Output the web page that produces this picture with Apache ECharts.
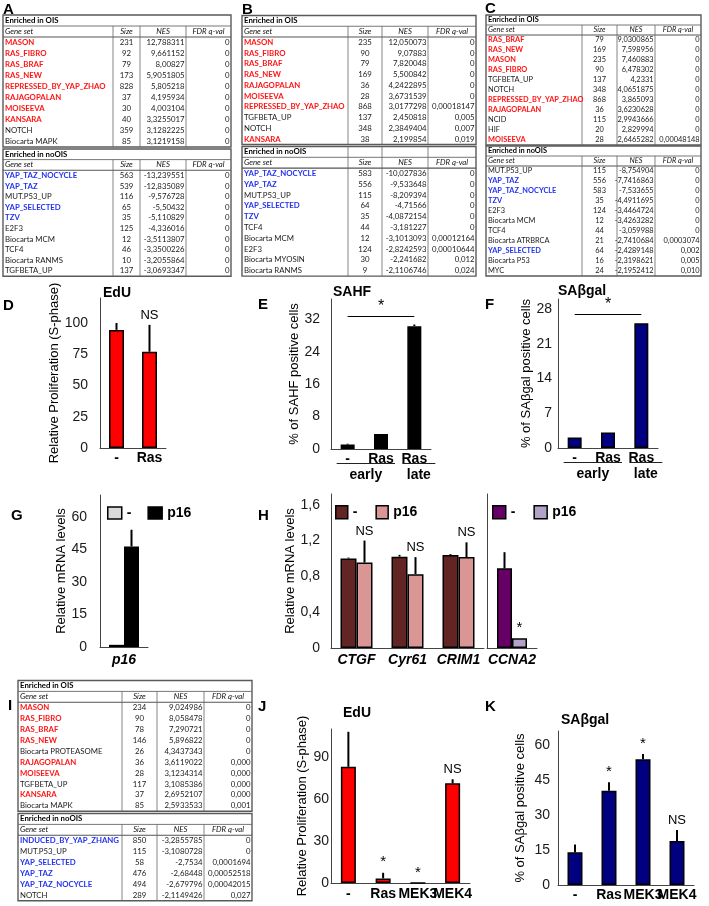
<!DOCTYPE html>
<html><head><meta charset="utf-8">
<script src="https://cdn.jsdelivr.net/npm/echarts@6/dist/echarts.min.js"></script>
<style>html,body{margin:0;padding:0;background:#fff}#c{width:709px;height:906px}</style>
</head><body><div id="c"></div>
<script>
// ================= DATA =================
const redSets = ['MASON','RAS_FIBRO','RAS_BRAF','RAS_NEW','REPRESSED_BY_YAP_ZHAO','RAJAGOPALAN','MOISEEVA','KANSARA'];
const blueSets = ['YAP_TAZ_NOCYCLE','YAP_TAZ','YAP_SELECTED','TZV','INDUCED_BY_YAP_ZHANG'];
const tableHeaders = ['Gene set','Size','NES','FDR q-val'];
const titleOIS = 'Enriched in OIS';
const titleNoOIS = 'Enriched in noOIS';

const tableA_OIS = [
  ['MASON',231,'12,788311','0'],['RAS_FIBRO',92,'9,661152','0'],['RAS_BRAF',79,'8,00827','0'],
  ['RAS_NEW',173,'5,9051805','0'],['REPRESSED_BY_YAP_ZHAO',828,'5,805218','0'],['RAJAGOPALAN',37,'4,195934','0'],
  ['MOISEEVA',30,'4,003104','0'],['KANSARA',40,'3,3255017','0'],['NOTCH',359,'3,1282225','0'],
  ['Biocarta MAPK',85,'3,1219158','0']];
const tableA_noOIS = [
  ['YAP_TAZ_NOCYCLE',563,'-13,239551','0'],['YAP_TAZ',539,'-12,835089','0'],['MUT.P53_UP',116,'-9,576728','0'],
  ['YAP_SELECTED',65,'-5,50432','0'],['TZV',35,'-5,110829','0'],['E2F3',125,'-4,336016','0'],
  ['Biocarta MCM',12,'-3,5113807','0'],['TCF4',46,'-3,3500226','0'],['Biocarta RANMS',10,'-3,2055864','0'],
  ['TGFBETA_UP',137,'-3,0693347','0']];
const tableB_OIS = [
  ['MASON',235,'12,050073','0'],['RAS_FIBRO',90,'9,07883','0'],['RAS_BRAF',79,'7,820048','0'],
  ['RAS_NEW',169,'5,500842','0'],['RAJAGOPALAN',36,'4,2422895','0'],['MOISEEVA',28,'3,6731539','0'],
  ['REPRESSED_BY_YAP_ZHAO',868,'3,0177298','0,00018147'],['TGFBETA_UP',137,'2,450818','0,005'],
  ['NOTCH',348,'2,3849404','0,007'],['KANSARA',38,'2,199854','0,019']];
const tableB_noOIS = [
  ['YAP_TAZ_NOCYCLE',583,'-10,027836','0'],['YAP_TAZ',556,'-9,533648','0'],['MUT.P53_UP',115,'-8,209394','0'],
  ['YAP_SELECTED',64,'-4,71566','0'],['TZV',35,'-4,0872154','0'],['TCF4',44,'-3,181227','0'],
  ['Biocarta MCM',12,'-3,1013093','0,00012164'],['E2F3',124,'-2,8242593','0,00010644'],
  ['Biocarta MYOSIN',30,'-2,241682','0,012'],['Biocarta RANMS',9,'-2,1106746','0,024']];
const tableC_OIS = [
  ['RAS_BRAF',79,'9,0300865','0'],['RAS_NEW',169,'7,598956','0'],['MASON',235,'7,460883','0'],
  ['RAS_FIBRO',90,'6,478302','0'],['TGFBETA_UP',137,'4,2331','0'],['NOTCH',348,'4,0651875','0'],
  ['REPRESSED_BY_YAP_ZHAO',868,'3,865093','0'],['RAJAGOPALAN',36,'3,6230628','0'],['NCID',115,'2,9943666','0'],
  ['HIF',20,'2,829994','0'],['MOISEEVA',28,'2,6465282','0,00048148']];
const tableC_noOIS = [
  ['MUT.P53_UP',115,'-8,754904','0'],['YAP_TAZ',556,'-7,7416863','0'],['YAP_TAZ_NOCYCLE',583,'-7,533655','0'],
  ['TZV',35,'-4,4911695','0'],['E2F3',124,'-3,4464724','0'],['Biocarta MCM',12,'-3,4263282','0'],
  ['TCF4',44,'-3,059988','0'],['Biocarta ATRBRCA',21,'-2,7410684','0,0003074'],['YAP_SELECTED',64,'-2,4289148','0,002'],
  ['Biocarta P53',16,'-2,3198621','0,005'],['MYC',24,'-2,1952412','0,010']];
const tableI_OIS = [
  ['MASON',234,'9,024986','0'],['RAS_FIBRO',90,'8,058478','0'],['RAS_BRAF',78,'7,290721','0'],
  ['RAS_NEW',146,'5,896822','0'],['Biocarta PROTEASOME',26,'4,3437343','0'],['RAJAGOPALAN',36,'3,6119022','0,000'],
  ['MOISEEVA',28,'3,1234314','0,000'],['TGFBETA_UP',117,'3,1085386','0,000'],['KANSARA',37,'2,6952107','0,000'],
  ['Biocarta MAPK',85,'2,5933533','0,001']];
const tableI_noOIS = [
  ['INDUCED_BY_YAP_ZHANG',850,'-3,2855785','0'],['MUT.P53_UP',115,'-3,1080728','0'],
  ['YAP_SELECTED',58,'-2,7534','0,0001694'],['YAP_TAZ',476,'-2,68448','0,00052518'],
  ['YAP_TAZ_NOCYCLE',494,'-2,679796','0,00042015'],['NOTCH',289,'-2,1149426','0,027']];

// Panel D  EdU
const dCategories = ['-','Ras'];
const dValues = [94.5, 77];
const dErrors = [5.5, 21.5];
const dSignif = ['', 'NS'];
const dTicks = [0, 25, 50, 75, 100];
// Panel E  SAHF
const eCategories = ['-','Ras','Ras'];
const eValues = [1.1, 3.7, 30.3];
const eErrors = [0.2, 0, 0.4];
const eTicks = [0, 8, 16, 24, 32];
const eBracket = 32.8;
// Panel F  SAbgal
const fCategories = ['-','Ras','Ras'];
const fValues = [2.1, 3.1, 25.1];
const fErrors = [0, 0, 0];
const fTicks = [0, 7, 14, 21, 28];
const fBracket = 27;
const timeGroups = [['early', 0, 1], ['late', 2, 2]];
// Panel G
const gCategories = ['p16'];
const gCtrl = [1.0];  const gCtrlErr = [0];
const gP16 = [46.3];  const gP16Err = [7.7];
const gTicks = [0, 15, 30, 45, 60];
// Panel H
const hCategories = ['CTGF','Cyr61','CRIM1'];
const hCtrl = [1.0, 1.02, 1.04];   const hCtrlErr = [0.01, 0.02, 0.01];
const hP16 = [0.955, 0.825, 1.015]; const hP16Err = [0.245, 0.19, 0.165];
const hSignif = ['NS','NS','NS'];
const h2Categories = ['CCNA2'];
const h2Ctrl = [0.89]; const h2CtrlErr = [0.18];
const h2P16 = [0.108]; const h2P16Err = [0];
const h2Signif = ['*'];
const hTicks = [0, 0.4, 0.8, 1.2, 1.6];
const hTickLabels = ['0','0,4','0,8','1,2','1,6'];
// Panel J  EdU
const jCategories = ['-','Ras','MEK3','MEK4'];
const jValues = [83, 3.3, 0, 71.2];
const jErrors = [25, 4, 0, 2.9];
const jSignif = ['', '*', '*', 'NS'];
const jTicks = [0, 30, 60, 90];
// Panel K  SAbgal
const kCategories = ['-','Ras','MEK3','MEK4'];
const kValues = [14, 40.4, 53.9, 18.9];
const kErrors = [3.4, 3.6, 2.2, 4.7];
const kSignif = ['', '*', '*', 'NS'];
const kTicks = [0, 15, 30, 45, 60];
const panelLetters = ['A','B','C','D','E','F','G','H','I','J','K'];

// ================= STYLE / LAYOUT =================
const FONT = "'Liberation Sans', Arial, sans-serif";
const TFONT = "Lato, 'Open Sans', sans-serif";
const AXC = '#444';
const grids = [
  {left:100, top:298, width:66,  height:150}, // 0 D
  {left:331, top:299, width:100, height:150}, // 1 E
  {left:558, top:299, width:100, height:149}, // 2 F
  {left:100, top:495, width:48,  height:152}, // 3 G
  {left:331, top:494, width:153, height:154}, // 4 H
  {left:487, top:494, width:50,  height:154}, // 5 H2
  {left:331, top:729, width:139, height:154}, // 6 J
  {left:558, top:731, width:136, height:154}  // 7 K
].map(g => Object.assign({outerBoundsMode:'none', containLabel:false}, g));

function tickFmt(vals, labels) {
  return v => { const k = vals.findIndex(t => Math.abs(t - v) < 1e-9); return k >= 0 ? (labels ? labels[k] : String(vals[k])) : ''; };
}
function xAx(gi, data, italic, labelMargin) {
  return {type:'category', gridIndex:gi, data, axisTick:{show:false}, splitLine:{show:false},
    axisLine:{show:true, lineStyle:{color:AXC, width:1}},
    axisLabel:{interval:0, fontSize:14, fontWeight:'bold', fontStyle: italic ? 'italic' : 'normal', color:'#000', margin:labelMargin, fontFamily:FONT}};
}
function yAx(gi, max, ticks, labels, name, gap, margin, showLabel) {
  return {type:'value', gridIndex:gi, min:0, max, interval: ticks[1]-ticks[0],
    name, nameLocation:'middle', nameGap:gap, nameRotate:90,
    nameTextStyle:{fontSize:13, color:'#000', fontFamily:FONT},
    axisLine:{show:true, lineStyle:{color:AXC, width:1}}, axisTick:{show:false}, splitLine:{show:false},
    axisLabel:{show: showLabel !== false, fontSize:14, color:'#1a1a1a', margin, fontFamily:FONT, formatter: tickFmt(ticks, labels)}};
}
function bar(name, gi, data, color, bw, extra) {
  return Object.assign({type:'bar', name, xAxisIndex:gi, yAxisIndex:gi, data, barWidth:bw, barGap:'0%',
    silent:true, animation:false,
    itemStyle:{color, borderColor:'#000', borderWidth:1.5}}, extra || {});
}
function errBars(gi, vals, errs, labels, offset) {
  return {type:'custom', xAxisIndex:gi, yAxisIndex:gi, silent:true, clip:false, z:5, animation:false,
    data: vals.map((v, i) => [i, v + errs[i]]),
    renderItem: (params, api) => {
      const i = params.dataIndex;
      const base = api.coord([i, vals[i]]);
      const top = api.coord([i, vals[i] + errs[i]]);
      const x = base[0] + offset;
      const ch = [];
      if (errs[i] > 0) ch.push({type:'line', shape:{x1:x, y1:base[1], x2:x, y2:top[1]}, style:{stroke:'#000', lineWidth:2}});
      const lab = labels && labels[i];
      if (lab) {
        const fs = lab === '*' ? 15 : 13;
        ch.push({type:'text', x, y: top[1] - 3, style:{text:lab, fill:'#000', font: fs + 'px ' + FONT,
          align:'center', verticalAlign:'bottom', textAlign:'center', textVerticalAlign:'bottom'}});
      }
      return {type:'group', children: ch};
    }};
}
function bracket(level) {
  return {silent:true, symbol:'none', animation:false,
    lineStyle:{color:'#000', width:1, type:'solid'},
    label:{show:true, position:'insideMiddleTop', formatter:'*', fontSize:16, color:'#000', distance:1, fontFamily:FONT},
    emphasis:{disabled:true},
    data:[[{coord:[0, level]}, {coord:[2, level]}]]};
}
const legendBase = {icon:'rect', selectedMode:false, padding:0, orient:'horizontal',
  formatter: n => n.split(': ')[1],
  textStyle:{fontSize:14, fontWeight:'bold', color:'#000', fontFamily:FONT},
  itemStyle:{borderColor:'#000', borderWidth:1.5}};
const titleBase = {padding:0, textStyle:{fontSize:14, fontWeight:'bold', color:'#000', fontFamily:FONT, lineHeight:14}};

const option = {
  animation:false,
  backgroundColor:'#fff',
  textStyle:{fontFamily:FONT},
  grid: grids,
  title: [
    Object.assign({text:'EdU', left:103, top:286}, titleBase),
    Object.assign({text:'SAHF', left:333, top:285}, titleBase),
    Object.assign({text:'SAβgal', left:558, top:284}, titleBase),
    Object.assign({text:'EdU', left:343, top:706}, titleBase),
    Object.assign({text:'SAβgal', left:561, top:713}, titleBase)
  ],
  legend: [
    Object.assign({left:107, top:506, itemWidth:14, itemHeight:12, itemGap:16, data:['G: -','G: p16']}, legendBase),
    Object.assign({left:335, top:505, itemWidth:12, itemHeight:13, itemGap:18, data:['H: -','H: p16']}, legendBase),
    Object.assign({left:492, top:505, itemWidth:13, itemHeight:13, itemGap:18, data:['H2: -','H2: p16']}, legendBase)
  ],
  xAxis: [
    xAx(0, dCategories, false, 3), xAx(1, eCategories, false, 3), xAx(2, fCategories, false, 3),
    xAx(3, gCategories, true, 6), xAx(4, hCategories, true, 5), xAx(5, h2Categories, true, 5),
    xAx(6, jCategories, false, 4), xAx(7, kCategories, false, 3)
  ],
  yAxis: [
    yAx(0, 120, dTicks, null, 'Relative Proliferation (S-phase)', 33.5, 12),
    yAx(1, 37, eTicks, null, '% of SAHF positive cells', 26.5, 11),
    yAx(2, 30, fTicks, null, '% of SAβgal positive cells', 23.5, 6),
    yAx(3, 70, gTicks, null, 'Relative mRNA levels', 27.5, 13),
    yAx(4, 1.72, hTicks, hTickLabels, 'Relative mRNA levels', 30.5, 11),
    yAx(5, 1.72, hTicks, hTickLabels, '', 10, 8, false),
    yAx(6, 110, jTicks, null, 'Relative Proliferation (S-phase)', 22, 2),
    yAx(7, 66, kTicks, null, '% of SAβgal positive cells', 31.5, 8)
  ],
  series: [
    bar('D', 0, dValues, '#ff0000', 15), errBars(0, dValues, dErrors, dSignif, 0),
    bar('E', 1, eValues, '#000000', 14, {markLine: bracket(eBracket)}), errBars(1, eValues, eErrors, null, 0),
    bar('F', 2, fValues, '#000080', 14, {markLine: bracket(fBracket)}), errBars(2, fValues, fErrors, null, 0),
    bar('G: -', 3, gCtrl, '#d9d9d9', 15), bar('G: p16', 3, gP16, '#000000', 15),
    errBars(3, gCtrl, gCtrlErr, null, -7.5), errBars(3, gP16, gP16Err, null, 7.5),
    bar('H: -', 4, hCtrl, '#632523', 16), bar('H: p16', 4, hP16, '#d99694', 16),
    errBars(4, hCtrl, hCtrlErr, null, -8), errBars(4, hP16, hP16Err, hSignif, 8),
    bar('H2: -', 5, h2Ctrl, '#660066', 15), bar('H2: p16', 5, h2P16, '#b3a2c7', 15),
    errBars(5, h2Ctrl, h2CtrlErr, null, -7.5), errBars(5, h2P16, h2P16Err, h2Signif, 7.5),
    bar('J', 6, jValues, '#ff0000', 15), errBars(6, jValues, jErrors, jSignif, 0),
    bar('K', 7, kValues, '#000080', 15), errBars(7, kValues, kErrors, kSignif, 0)
  ]
};

const chart = echarts.init(document.getElementById('c'), null, {renderer:'canvas', width:709, height:906});
chart.setOption(option);

// ================= TABLES & ANNOTATIONS (graphic) =================
function txt(s, x, y, align, font, fill, vAlign) {
  const va = vAlign || 'middle';
  return {type:'text', x, y, silent:true,
    style:{text:String(s), font, fill, align, verticalAlign:va, textAlign:align, textVerticalAlign:va}};
}
function ln(x1, y1, x2, y2, w, c) {
  return {type:'line', silent:true, shape:{x1, y1, x2, y2}, style:{stroke:c || '#777', lineWidth:w || 0.8}};
}
function tableGraphics(edges, top, rowH, title, rows, fs, splitTitle) {
  const els = [];
  const x0 = edges[0], x1 = edges[edges.length - 1];
  const h = (rows.length + 2) * rowH;
  els.push({type:'rect', silent:true, shape:{x:x0, y:top, width:x1 - x0, height:h}, style:{fill:'#fff', stroke:'#5a5a5a', lineWidth:1.4}});
  els.push(ln(x0, top + rowH, x1, top + rowH, 0.9, '#666'));
  els.push(ln(x0, top + 2 * rowH, x1, top + 2 * rowH, 1.1, '#555'));
  for (let j = 1; j < edges.length - 1; j++) els.push(ln(edges[j], top + (splitTitle ? 0 : rowH), edges[j], top + h, 0.8, '#666'));
  const f = s => s + ' ' + fs + 'px ' + TFONT;
  els.push(txt(title, x0 + 2, top + rowH / 2, 'left', f('bold'), '#000'));
  const hy = top + 1.5 * rowH;
  els.push(txt(tableHeaders[0], x0 + 2, hy, 'left', f('italic'), '#111'));
  for (let j = 1; j < 4; j++) els.push(txt(tableHeaders[j], (edges[j] + edges[j + 1]) / 2, hy, 'center', f('italic'), '#111'));
  rows.forEach((r, i) => {
    const y = top + (2.5 + i) * rowH;
    const red = redSets.includes(r[0]), blue = blueSets.includes(r[0]);
    const col = red ? '#ff1414' : blue ? '#2233ee' : '#1a1a1a';
    els.push(txt(r[0], x0 + 2, y, 'left', f(red || blue ? 'bold' : 'normal'), col));
    els.push(txt(r[1], (edges[1] + edges[2]) / 2, y, 'center', f('normal'), '#1a1a1a'));
    els.push(txt(r[2], edges[3] - 1.5, y, 'right', f('normal'), '#1a1a1a'));
    els.push(txt(r[3], edges[4] - 1.5, y, 'right', f('normal'), '#1a1a1a'));
  });
  return els;
}
const tableEls = [].concat(
  tableGraphics([3, 113, 140, 186, 231], 15, 11, titleOIS, tableA_OIS, 7.8),
  tableGraphics([3, 113, 140, 186, 231], 149, 10.6, titleNoOIS, tableA_noOIS, 7.8),
  tableGraphics([242, 348, 382, 428, 476], 15.5, 10.75, titleOIS, tableB_OIS, 7.8),
  tableGraphics([242, 348, 382, 428, 476], 146.5, 10.8, titleNoOIS, tableB_noOIS, 7.8, true),
  tableGraphics([486, 582, 617, 655, 701], 15, 10, titleOIS, tableC_OIS, 7.4),
  tableGraphics([486, 582, 617, 655, 701], 146, 10, titleNoOIS, tableC_noOIS, 7.4),
  tableGraphics([18, 122, 157, 204, 252], 680.5, 10.9, titleOIS, tableI_OIS, 7.8),
  tableGraphics([18, 122, 157, 204, 252], 813.5, 10.9, titleNoOIS, tableI_noOIS, 7.8)
);
const letterFont = 'bold 15px ' + FONT;
const letterPos = [[3,10],[242,10],[485,9],[3,306],[258,305],[485,305],[11,516],[258,516],[8,706],[258,707],[485,707]];
const letterEls = panelLetters.map((L, i) => txt(L, letterPos[i][0], letterPos[i][1], 'left', letterFont, '#000'));

// group underlines (early / late) under E and F, positioned from the axes
const groupPad = [[11, 14], [12, 21]];
function groupEls(gi, groups) {
  const els = [];
  const base = chart.convertToPixel({yAxisIndex: gi}, 0);
  groups.forEach((g, k) => {
    const xa = chart.convertToPixel({xAxisIndex: gi}, g[1]) - groupPad[k][0];
    const xb = chart.convertToPixel({xAxisIndex: gi}, g[2]) + groupPad[k][1];
    const y = base + 14.5;
    els.push(ln(xa, y, xb, y, 1.2, '#222'));
    els.push(txt(g[0], (xa + xb) / 2, y + 12, 'center', 'bold 14px ' + FONT, '#000'));
  });
  return els;
}
const extraEls = [].concat(tableEls, letterEls, groupEls(1, timeGroups), groupEls(2, timeGroups));
chart.setOption({graphic: {elements: extraEls}});
</script></body></html>
